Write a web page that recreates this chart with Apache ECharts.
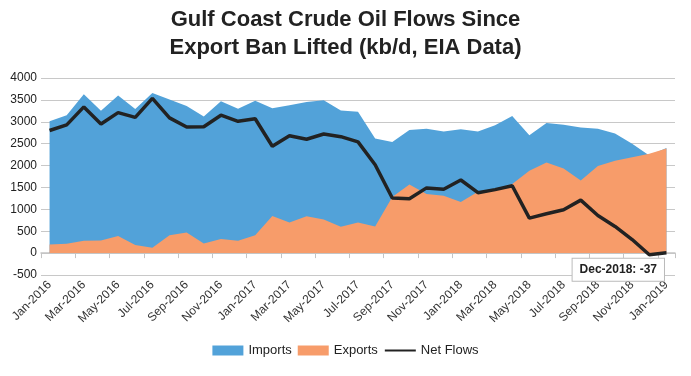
<!DOCTYPE html>
<html>
<head>
<meta charset="utf-8">
<script src="https://cdn.jsdelivr.net/npm/echarts@6/dist/echarts.min.js"></script>
<style>
  html, body { margin: 0; padding: 0; background: #fff; }
  #chart { width: 691px; height: 376px; }
</style>
</head>
<body>
<div id="chart"></div>
<script>
const months = [
  "Jan-2016", "Feb-2016", "Mar-2016", "Apr-2016", "May-2016", "Jun-2016",
  "Jul-2016", "Aug-2016", "Sep-2016", "Oct-2016", "Nov-2016", "Dec-2016",
  "Jan-2017", "Feb-2017", "Mar-2017", "Apr-2017", "May-2017", "Jun-2017",
  "Jul-2017", "Aug-2017", "Sep-2017", "Oct-2017", "Nov-2017", "Dec-2017",
  "Jan-2018", "Feb-2018", "Mar-2018", "Apr-2018", "May-2018", "Jun-2018",
  "Jul-2018", "Aug-2018", "Sep-2018", "Oct-2018", "Nov-2018", "Dec-2018",
  "Jan-2019",
];
const imports = [
  3010, 3150, 3630, 3250, 3600, 3290, 3660, 3510, 3360, 3120, 3470, 3300,
  3480, 3310, 3380, 3450, 3490, 3260, 3230, 2620, 2540, 2810, 2840, 2780,
  2830, 2780, 2920, 3130, 2690, 2970, 2930, 2870, 2840, 2730, 2500, 2230,
  2400,
];
const exports = [
  195, 215, 280, 290, 390, 185, 120, 410, 470, 220, 320, 280,
  410, 850, 700, 840, 770, 600, 700, 610, 1280, 1570, 1350, 1310,
  1170, 1400, 1460, 1580, 1880, 2070, 1930, 1660, 1990, 2110, 2190, 2270,
  2390,
];
const netFlows = [
  2800, 2930, 3340, 2950, 3210, 3100, 3535, 3090, 2880, 2885, 3150, 3010,
  3070, 2440, 2680, 2600, 2720, 2660, 2540, 2020, 1260, 1240, 1490, 1460,
  1670, 1380, 1450, 1540, 800, 900, 990, 1210, 860, 610, 310, -37,
  10,
];
const yTicks = { min: -500, max: 4000, step: 500 };
const calloutIndex = 35; // Dec-2018

const font = "Liberation Sans, Arial, Helvetica, sans-serif";

const option = {
  animation: false,
  textStyle: { fontFamily: font },
  title: {
    text: "Gulf Coast Crude Oil Flows Since\nExport Ban Lifted (kb/d, EIA Data)",
    left: "center",
    top: 1,
    textStyle: {
      fontFamily: font,
      fontSize: 22,
      fontWeight: "bold",
      color: "#222",
      lineHeight: 28,
    },
  },
  grid: {
    left: 41,
    right: 16,
    top: 78,
    bottom: 101,
  },
  legend: {
    bottom: 14,
    left: "center",
    itemWidth: 31,
    itemHeight: 10,
    itemGap: 6,
    textStyle: { fontSize: 13, color: "#222", fontFamily: font },
    data: [
      { name: "Imports", icon: "rect" },
      { name: "Exports", icon: "rect" },
      { name: "Net Flows", itemStyle: { opacity: 0 } },
    ],
  },
  xAxis: [
    {
      type: "category",
      data: months,
      boundaryGap: true,
      axisLine: { onZero: true, lineStyle: { color: "#c4c4c4", width: 1.5 } },
      axisTick: { show: true, interval: 1, length: 5, lineStyle: { color: "#c4c4c4" } },
      axisLabel: { show: false },
      splitLine: { show: false },
    },
    {
      type: "category",
      data: months,
      boundaryGap: true,
      position: "bottom",
      axisLine: { show: false, onZero: false },
      axisTick: { show: false },
      axisLabel: {
        interval: 1,
        rotate: 45,
        margin: 8,
        fontSize: 12,
        color: "#333",
        fontFamily: font,
      },
      splitLine: { show: false },
    },
  ],
  yAxis: {
    type: "value",
    min: yTicks.min,
    max: yTicks.max,
    interval: yTicks.step,
    axisLine: { show: false },
    axisTick: { show: false },
    axisLabel: {
      fontSize: 12,
      color: "#222",
      margin: 4,
      fontFamily: font,
      formatter: (v) => String(v),
    },
    splitLine: { lineStyle: { color: "#c8c8c8", width: 1 } },
  },
  series: [
    {
      name: "Imports",
      type: "line",
      data: imports,
      symbol: "none",
      lineStyle: { width: 0 },
      itemStyle: { color: "#52a2d9" },
      areaStyle: { color: "#52a2d9", opacity: 1 },
    },
    {
      name: "Exports",
      type: "line",
      data: exports,
      symbol: "none",
      lineStyle: { width: 0 },
      itemStyle: { color: "#f79c6a" },
      areaStyle: { color: "#f79c6a", opacity: 1 },
    },
    {
      name: "Net Flows",
      type: "line",
      data: netFlows,
      symbol: "none",
      lineStyle: { width: 3.5, color: "#222" },
      itemStyle: { color: "#222" },
      markPoint: {
        symbol: "circle",
        symbolSize: 0,
        data: [
          {
            coord: [months[calloutIndex], netFlows[calloutIndex]],
            value: netFlows[calloutIndex],
          },
        ],
        label: {
          show: true,
          position: "inside",
          offset: [-31, 15],
          formatter: () => months[calloutIndex] + ": " + netFlows[calloutIndex],
          fontSize: 12,
          fontWeight: "bold",
          color: "#222",
          fontFamily: font,
          backgroundColor: "#fff",
          borderColor: "#bbb",
          borderWidth: 1,
          padding: [5, 7],
        },
      },
    },
  ],
};

echarts.init(document.getElementById("chart")).setOption(option);
</script>
</body>
</html>
